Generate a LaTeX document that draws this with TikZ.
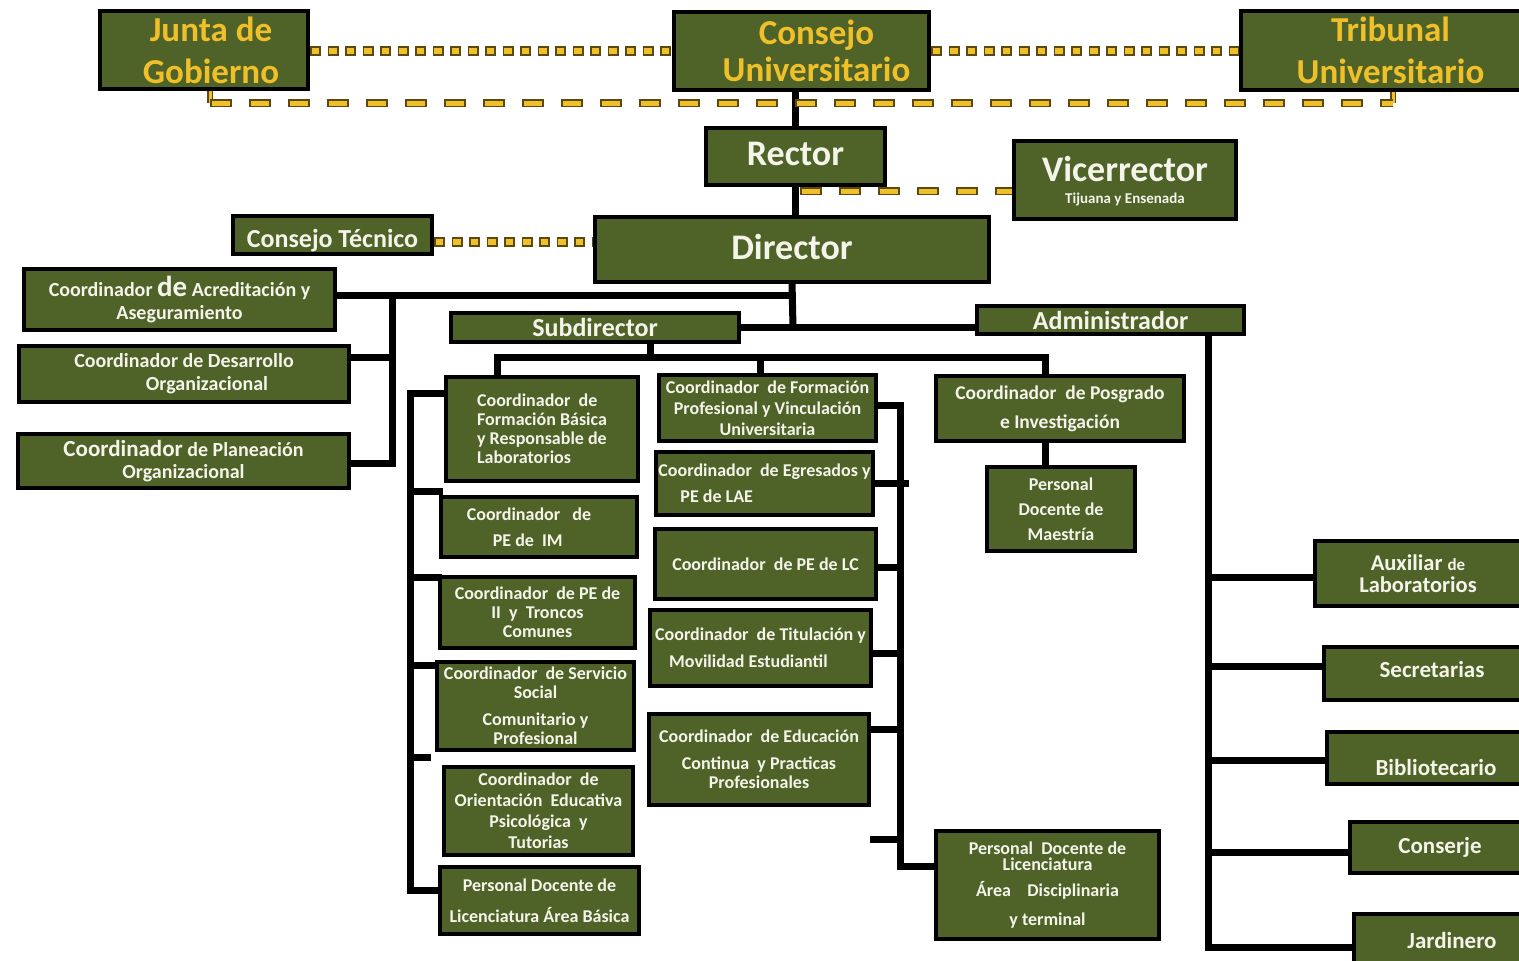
\documentclass[tikz,border=0pt]{standalone}
\usepackage{fontspec}
\setmainfont{Carlito}
\definecolor{olive}{HTML}{4F6228}
\definecolor{gold}{HTML}{EFC02A}
\definecolor{dkg}{HTML}{5A4A12}
\definecolor{txt}{HTML}{F4F4EA}
\newcommand\fz[2]{\fontsize{#1}{#2}\selectfont}
\newcommand\lift[2]{\raisebox{#1}[\height][\depth]{#2}}
\newcommand\bx[7][]{\node[box,#1,minimum width={#5pt-#3pt-4pt},minimum height={#6pt-#4pt-4pt}] (#2) at ({(#3+#5)/2},{(#4+#6)/2}) {#7};}
\pgfdeclarelayer{bg}
\pgfsetlayers{bg,main}
\tikzset{
  box/.style={draw=black, line width=4pt, fill=olive, text=txt, inner sep=0pt, align=center, font=\bfseries\fz{18}{19}},
  topbox/.style={box, text=gold, font=\bfseries\fz{35}{42}},
  conn/.style={draw=black, line width=7pt, line cap=rect},
  sqd/.style={preaction={draw=dkg, line width=10pt, dash pattern=on 11pt off 6.5pt, dash phase=0pt}, draw=gold, line width=6pt, dash pattern=on 7.5pt off 10pt, dash phase=15.75pt},
  lgd/.style={preaction={draw=dkg, line width=8.5pt, dash pattern=on 22pt off 17pt, dash phase=0pt}, draw=gold, line width=5pt, dash pattern=on 18.5pt off 20.5pt, dash phase=37.25pt},
  gstub/.style={preaction={draw=dkg, line width=6pt}, draw=gold, line width=3pt}
}
\begin{document}
\begin{tikzpicture}[x=1pt,y=-1pt]
\useasboundingbox (0,0) rectangle (1519,961);
\begin{pgfonlayer}{bg}
\fill[white] (0,0) rectangle (1519,961);
\end{pgfonlayer}
% top level
\bx[topbox]{jg}{98}{9}{310}{91}{\hspace*{14pt}Junta de\\\hspace*{14pt}Gobierno}
\bx[topbox,font=\bfseries\fz{35}{37}]{cu}{672}{10}{931}{92}{\hspace*{30pt}Consejo\\\hspace*{30pt}Universitario}
\bx[topbox]{tu}{1239}{9}{1530}{92}{\hspace*{12pt}Tribunal\\\hspace*{12pt}Universitario}
\bx[font=\bfseries\fz{36}{30}]{rec}{704}{126}{887}{187}{\lift{3pt}{Rector}}
\bx[font=\bfseries\fz{36}{25}]{vic}{1012}{139}{1238}{221}{\lift{-3pt}{Vicerrector}\\{\fz{15}{15}Tijuana y Ensenada}}
\bx[font=\bfseries\fz{26}{22}]{ct}{231}{214}{434}{256}{\lift{-6pt}{Consejo Técnico}}
\bx[font=\bfseries\fz{36}{30}]{dir}{593}{215}{991}{284}{\lift{3pt}{Director}}
% left staff
\bx[font=\bfseries\fz{20}{23}]{acr}{22}{267}{337}{332}{Coordinador {\fz{29}{23}de} Acreditación y\\Aseguramiento}
\bx[font=\bfseries\fz{20}{23}]{des}{17}{344}{351}{404}{Coordinador de Desarrollo\\\hspace*{46pt}Organizacional}
\bx[font=\bfseries\fz{20}{22}]{pla}{16}{432}{351}{490}{{\fz{23}{22}Coordinador} de Planeación\\Organizacional}
\bx[font=\bfseries\fz{26}{22}]{sub}{449}{311}{741}{344}{Subdirector}
\bx[font=\bfseries\fz{26}{22}]{adm}{975}{304}{1246}{336}{Administrador}
% left column
\bx[align=left]{fb}{444}{375}{640}{483}{Coordinador~ de\\Formación Básica\\y Responsable de\\Laboratorios}
\bx[align=left,font=\bfseries\fz{18}{26}]{im}{439}{495}{639}{559}{Coordinador~~ de\hspace*{20pt}\\\hspace*{26pt}PE de~ IM}
\bx{ii}{438}{575}{637}{650}{Coordinador~ de PE de\\II~ y~ Troncos\\Comunes}
\bx{ss}{435}{660}{636}{752}{Coordinador~ de Servicio\\Social\\[8pt]Comunitario y\\Profesional}
\bx[font=\bfseries\fz{18}{21}]{oe}{442}{765}{635}{857}{Coordinador~ de\\Orientación~ Educativa\\Psicológica~ y\\Tutorias}
\bx[font=\bfseries\fz{18}{31}]{pdb}{438}{865}{641}{936}{Personal Docente de\\Licenciatura Área Básica}
% middle column
\bx[font=\bfseries\fz{18}{21}]{fp}{657}{373}{878}{443}{Coordinador~ de Formación\\Profesional y Vinculación\\Universitaria}
\bx[align=left,font=\bfseries\fz{18}{26}]{eg}{654}{450}{875}{517}{Coordinador~ de Egresados y\\\hspace*{22pt}PE de LAE}
\bx{lc}{653}{527}{878}{601}{Coordinador~ de PE de LC}
\bx[align=left,font=\bfseries\fz{18}{27}]{ti}{648}{608}{873}{688}{Coordinador~ de Titulación y\\\hspace*{14pt}Movilidad Estudiantil}
\bx[font=\bfseries\fz{18}{19.5}]{ed}{647}{712}{871}{807}{Coordinador~ de Educación\\[7pt]Continua~ y Practicas\\Profesionales}
% posgrado
\bx[font=\bfseries\fz{19.5}{29}]{pos}{934}{374}{1186}{443}{Coordinador~ de Posgrado\\e Investigación}
\bx[font=\bfseries\fz{18}{25}]{mae}{985}{465}{1137}{553}{Personal\\Docente de\\Maestría}
\bx[font=\bfseries\fz{18}{16}]{pdl}{934}{829}{1161}{941}{Personal~ Docente de\\Licenciatura\\[10pt]Área~~~ Disciplinaria\\[13pt]y terminal}
% admin column
\bx[font=\bfseries\fz{22.5}{22}]{aux}{1313}{539}{1523}{608}{Auxiliar {\fz{17}{14}de}\\Laboratorios}
\bx[font=\bfseries\fz{23}{22}]{sec}{1322}{645}{1542}{702}{\lift{4pt}{Secretarias}}
\bx[font=\bfseries\fz{23}{22}]{bib}{1325}{730}{1547}{786}{\lift{-10pt}{Bibliotecario}}
\bx[font=\bfseries\fz{23}{22}]{con}{1348}{820}{1532}{875}{Conserje}
\bx[font=\bfseries\fz{23}{22}]{jar}{1352}{912}{1552}{970}{Jardinero}
% coordinates for buses
\coordinate (acb) at (392,295);
\coordinate (acb2) at (392,463);
\coordinate (desb) at (392,357);
\coordinate (dirb) at (793,327);
\coordinate (sb0) at (650,357);
\coordinate (sbl) at (497,357);
\coordinate (sbm) at (760,357);
\coordinate (sbr) at (1045,357);
\coordinate (lb1) at (410,393);
\coordinate (lb2) at (410,491);
\coordinate (lb3) at (410,577);
\coordinate (lb4) at (410,665);
\coordinate (lb5) at (410,757);
\coordinate (lb5e) at (427,757);
\coordinate (lb6) at (410,890);
\coordinate (mb1) at (900,405);
\coordinate (mb2) at (900,483);
\coordinate (mb2e) at (905,483);
\coordinate (mb3) at (900,567);
\coordinate (mb4) at (900,653);
\coordinate (mb5) at (900,729);
\coordinate (mb6) at (900,839);
\coordinate (mb6e) at (873,839);
\coordinate (mb7) at (900,866);
\coordinate (ab1) at (1208,577);
\coordinate (ab2) at (1208,666);
\coordinate (ab3) at (1208,760);
\coordinate (ab4) at (1208,852);
\coordinate (ab5) at (1208,947);
\coordinate (rvd) at (800,191);
\coordinate (ctd) at (434,242);
\coordinate (lgl) at (210,103);
\coordinate (lgr) at (1393,103);
\begin{pgfonlayer}{bg}
\draw[conn] (rec.north) -- (rec.north |- cu.south);
\draw[conn] (rec.south) -- (rec.south |- dir.north);
\draw[conn] (dir.south) -- (dirb);
\draw[conn] (sub.east |- dirb) -- (adm.west |- dirb);
\draw[conn] (acr.east |- acb) -- (dir.south |- acb);
\draw[conn] (acb) -- (acb2) -- (pla.east |- acb2);
\draw[conn] (desb) -- (des.east |- desb);
\draw[conn] (sb0 |- sub.south) -- (sb0);
\draw[conn] (sbl |- fb.north) -- (sbl) -- (sbr) -- (sbr |- pos.north);
\draw[conn] (sbm) -- (sbm |- fp.north);
\draw[conn] (lb1) -- (lb6);
\draw[conn] (lb1) -- (fb.west |- lb1);
\draw[conn] (lb2) -- (im.west |- lb2);
\draw[conn] (lb3) -- (ii.west |- lb3);
\draw[conn] (lb4) -- (ss.west |- lb4);
\draw[conn] (lb5) -- (lb5e);
\draw[conn] (lb6) -- (pdb.west |- lb6);
\draw[conn] (mb1) -- (mb7);
\draw[conn] (mb1) -- (fp.east |- mb1);
\draw[conn] (mb2e) -- (eg.east |- mb2);
\draw[conn] (mb3) -- (lc.east |- mb3);
\draw[conn] (mb4) -- (ti.east |- mb4);
\draw[conn] (mb5) -- (ed.east |- mb5);
\draw[conn] (mb6) -- (mb6e);
\draw[conn] (mb7) -- (pdl.west |- mb7);
\draw[conn] (ab5 |- adm.south) -- (ab5);
\draw[conn] (ab1) -- (aux.west |- ab1);
\draw[conn] (ab2) -- (sec.west |- ab2);
\draw[conn] (ab3) -- (bib.west |- ab3);
\draw[conn] (ab4) -- (con.west |- ab4);
\draw[conn] (ab5) -- (jar.west |- ab5);
\draw[conn] (sbr |- pos.south) -- (sbr |- mae.north);
\end{pgfonlayer}
% gold dashed relations
\draw[sqd] (jg.east |- 0,51) -- (cu.west |- 0,51);
\draw[sqd] (cu.east |- 0,51) -- (tu.west |- 0,51);
\draw[sqd] (ctd) -- (dir.west |- ctd);
\draw[gstub] (lgl |- jg.south) -- (lgl);
\draw[gstub] (lgr |- tu.south) -- (lgr);
\draw[lgd] (lgl) -- (lgr);
\draw[lgd] (rvd) -- (vic.west |- rvd);
\end{tikzpicture}
\end{document}
